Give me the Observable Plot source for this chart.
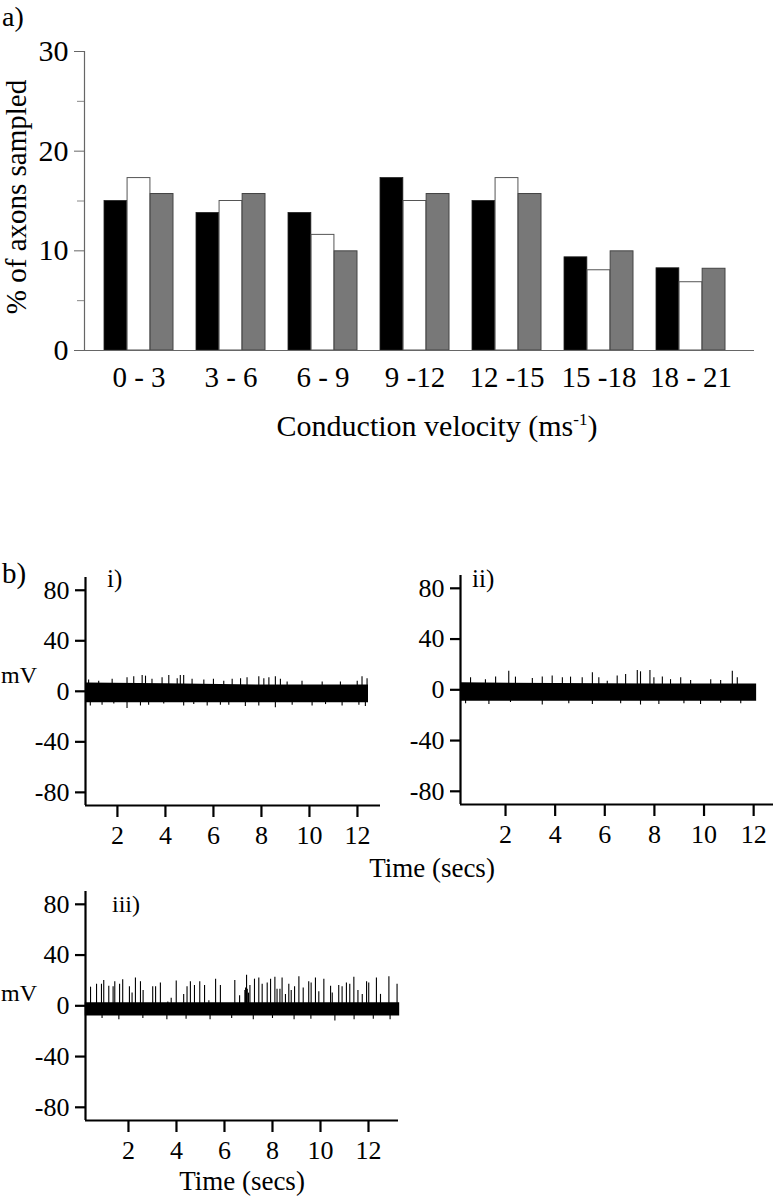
<!DOCTYPE html>
<html>
<head>
<meta charset="utf-8">
<script src="https://cdn.jsdelivr.net/npm/d3@7"></script>
<script src="https://cdn.jsdelivr.net/npm/@observablehq/plot@0.6"></script>
<style>
  body { margin: 0; background: #fff; }
  #root { position: relative; width: 779px; height: 1199px; overflow: hidden; background: #fff;
          font-family: "Liberation Serif", "Times New Roman", serif; }
  #root svg, #root svg text { font-family: "Liberation Serif", "Times New Roman", serif !important; }
</style>
</head>
<body>
<div id="root"></div>
<script>
// ---------- Panel a data ----------
const groups = ["0 - 3", "3 - 6", "6 - 9", "9 -12", "12 -15", "15 -18", "18 - 21"];
const blackValues = [15.0, 13.8, 13.8, 17.3, 15.0, 9.35, 8.25];
const whiteValues = [17.3, 15.0, 11.6, 15.0, 17.3, 8.05, 6.85];
const grayValues  = [15.7, 15.7, 9.95, 15.7, 15.7, 9.95, 8.2];
const yTicksA = [0, 10, 20, 30];
const yMinorTicksA = [5, 15, 25];

// ---------- Panel b data (time s, mV) ----------
const timeTicks = [2, 4, 6, 8, 10, 12];
const mvTicks = [-80, -40, 0, 40, 80];

// dense noise band: [time, upper, lower]
const bandI   = [[0.71, 6.5, -9], [4, 6, -9], [8, 5, -9], [12.46, 5, -9]];
const bandII  = [[0.19, 5.5, -9], [4, 5, -9], [8, 4.5, -9], [12.12, 4.5, -9]];
const bandIII = [[0.2, 2.5, -8], [4, 2.5, -8], [8, 2.5, -8], [13.3, 2.5, -8]];

// spikes: [time, peak mV]
const upI = [[0.8,9],[1.22,8],[1.78,9.5],[2.4,10.8],[2.68,11.6],[3.03,12.6],[3.17,12],[3.44,9.5],[3.86,10.8],
  [4.14,12.6],[4.49,10],[4.62,12.6],[4.76,12.6],[5.11,9.5],[5.6,9],[6.0,9.5],[6.43,8],[6.78,9.5],[7.13,10],
  [7.4,10.8],[7.89,11.6],[8.1,10],[8.31,10.8],[8.58,11.6],[8.79,9.5],[9.07,7.4],[9.69,8],[10.53,7.4],
  [11.29,7.4],[11.99,8],[12.19,11.6],[12.4,10]];
const downI = [[0.87,-11.6],[1.36,-11],[1.85,-10],[2.4,-13.7],[2.96,-11.6],[3.3,-11],[3.93,-10],[4.76,-11.6],
  [5.18,-10.5],[5.74,-11.6],[6.29,-11],[6.64,-11],[7.33,-12],[7.89,-11.6],[8.58,-13],[9.28,-11],[10.11,-11.6],
  [10.67,-10.5],[11.36,-11.6],[12.06,-11],[12.33,-12]];
const upII = [[0.59,9.5],[1.19,8],[1.6,10],[2.13,14.7],[2.4,10],[3.08,9],[3.48,10],[3.88,10.8],[4.29,9.5],
  [4.62,10],[5.09,9.5],[5.5,13.4],[5.76,9.5],[6.1,6.8],[6.5,10.8],[6.84,12],[7.31,15.3],[7.44,14.2],[7.82,15.3],
  [7.98,9.5],[8.32,10],[8.65,8],[9.06,9.5],[9.46,7.4],[10.27,8],[10.67,7.4],[11.14,14.7],[11.34,9.5]];
const downII = [[0.39,-11],[1.33,-11.6],[2.2,-10],[3.48,-12],[4.55,-11],[5.5,-11.6],[6.64,-11],[7.44,-12],
  [8.18,-11.6],[9.19,-11],[9.86,-11.6],[10.67,-10.5],[11.48,-11]];
const upIII = [[0.42,14.7],[0.67,17],[0.875,17],[0.97,20],[1.18,15.5],[1.36,15],[1.43,19],[1.63,17],[1.76,20.5],
  [2.04,15],[2.15,10],[2.29,22],[2.5,19],[2.61,12],[3.01,15],[3.13,15],[3.33,18],[3.64,3],[3.78,6],[3.99,19.5],
  [4.3,9],[4.44,15],[4.58,19],[4.75,16],[4.97,19],[5.17,16],[5.35,4],[5.63,21],[5.83,16],[6.43,20],[6.63,8],
  [6.85,12],[6.88,14],[6.92,24],[6.95,13],[7.0,10],[7.06,16],[7.25,21],[7.43,22],[7.57,17],[7.78,18],[7.92,21],
  [8.1,22.5],[8.19,13],[8.31,13],[8.4,22],[8.54,9],[8.68,17],[8.78,12],[8.92,15],[9.1,23],[9.28,14],[9.51,19],
  [9.61,18],[9.79,22],[9.93,11],[10.14,21],[10.42,15.5],[10.49,10],[10.76,16],[10.9,15],[11.08,18],[11.22,17],
  [11.39,22.5],[11.56,12],[11.74,9],[11.92,19],[12.01,18],[12.33,22],[12.5,9],[12.85,23],[13.19,17]];
const downIII = [[0.9,-10],[1.6,-11],[2.6,-10],[3.6,-11],[4.4,-10.5],[5.4,-11],[6.3,-10],[7.2,-11],[8.0,-10],
  [8.9,-11],[9.6,-10.5],[10.6,-12],[11.4,-11],[12.2,-10.5],[12.9,-11]];

// ---------- layout ----------
const root = document.getElementById("root");
const FONT = '"Liberation Serif", "Times New Roman", serif';
function place(el, left, top) {
  el.style.position = "absolute";
  el.style.left = left + "px";
  el.style.top = top + "px";
  root.appendChild(el);
}

// ---------- Panel a ----------
const A = {width: 779, height: 460, mL: 84, mR: 25, mT: 51, mB: 110, padIn: 0.254, padOut: 0.237, align: 0.41};
const step = (A.width - A.mL - A.mR) / (groups.length - A.padIn + 2 * A.padOut);
const barW = step * (1 - A.padIn) / 3;

const chartA = Plot.plot({
  width: A.width, height: A.height,
  marginLeft: A.mL, marginRight: A.mR, marginTop: A.mT, marginBottom: A.mB,
  style: {fontFamily: FONT, fontSize: "29px", color: "#000", background: "transparent"},
  x: {type: "band", domain: groups, paddingInner: A.padIn, paddingOuter: A.padOut, align: A.align, label: null},
  y: {domain: [0, 30], label: null},
  marks: [
    Plot.barY(blackValues, {x: (d, i) => groups[i], y: d => d, fill: "#000", stroke: "#222", strokeWidth: 0.8, insetRight: 2 * barW}),
    Plot.barY(whiteValues, {x: (d, i) => groups[i], y: d => d, fill: "#fff", stroke: "#555", strokeWidth: 1, insetLeft: barW, insetRight: barW}),
    Plot.barY(grayValues, {x: (d, i) => groups[i], y: d => d, fill: "#787878", stroke: "#444", strokeWidth: 1, insetLeft: 2 * barW}),
    Plot.ruleY([0], {stroke: "#666", strokeWidth: 1.2}),
    Plot.frame({anchor: "left", stroke: "#666", strokeWidth: 1.2}),
    Plot.axisY({ticks: yTicksA, tickSize: 10, tickPadding: 6, stroke: "#666", fontSize: 30, fontFamily: FONT, label: null}),
    Plot.axisY({ticks: yMinorTicksA, tickSize: 7, tickFormat: () => "", stroke: "#888", label: null}),
    Plot.axisX({tickSize: 0, tickPadding: 16, fontSize: 29, fontFamily: FONT, label: null})
  ]
});
place(chartA, 0, 0);

// ---------- Panel b traces ----------
function trace(o) {
  const svg = Plot.plot({
    width: o.width, height: o.height,
    marginLeft: o.mL, marginRight: o.mR, marginTop: o.mT, marginBottom: o.mB,
    style: {fontFamily: FONT, fontSize: "25px", color: "#000", background: "transparent"},
    x: {domain: o.xDomain, label: null},
    y: {domain: [-90.4, 90.1], label: null},
    marks: [
      Plot.areaY(o.band, {x: d => d[0], y1: d => d[2], y2: d => d[1], fill: "#000"}),
      Plot.ruleX(o.up, {x: d => d[0], y1: 0, y2: d => d[1], stroke: "#000", strokeWidth: 1.1}),
      Plot.ruleX(o.down, {x: d => d[0], y1: -4, y2: d => d[1], stroke: "#000", strokeWidth: 1.1}),
      Plot.ruleX([o.xDomain[0]], {stroke: "#000", strokeWidth: 2.2}),
      Plot.ruleY([-90.4], {stroke: "#000", strokeWidth: 2.2}),
      Plot.axisY({ticks: mvTicks, tickSize: 10, tickPadding: 6, strokeWidth: 2.2, tickFormat: d => String(d), fontSize: 26, fontFamily: FONT, label: null}),
      Plot.axisX({ticks: timeTicks, tickSize: 12, tickPadding: 8, strokeWidth: 2.2, fontSize: 26, fontFamily: FONT, label: null})
    ]
  });
  place(svg, o.left, o.top);
}

trace({left: 0, top: 556, width: 390, height: 300, mL: 85, mR: 10, mT: 21, mB: 51,
       xDomain: [0.67, 12.96], band: bandI, up: upI, down: downI});
trace({left: 390, top: 556, width: 389, height: 300, mL: 70, mR: 6, mT: 19, mB: 52,
       xDomain: [0.185, 12.8], band: bandII, up: upII, down: downII});
trace({left: 0, top: 870, width: 420, height: 300, mL: 85, mR: 22, mT: 21, mB: 50,
       xDomain: [0.21, 13.25], band: bandIII, up: upIII, down: downIII});

// ---------- text overlay ----------
const ov = d3.create("svg").attr("width", 779).attr("height", 1199)
  .style("position", "absolute").style("left", "0px").style("top", "0px")
  .style("pointer-events", "none")
  .attr("font-family", FONT).attr("fill", "#000");
function label(txt, x, y, size, anchor = "start", rotate = 0) {
  const t = ov.append("text").attr("x", x).attr("y", y).attr("font-size", size)
    .attr("text-anchor", anchor).text(txt);
  if (rotate) t.attr("transform", `rotate(${rotate},${x},${y})`);
  return t;
}
label("a)", 2, 26, 28);
label("% of axons sampled", 26, 197, 29, "middle", -90);
const xl = ov.append("text").attr("x", 437).attr("y", 436).attr("font-size", 30).attr("text-anchor", "middle");
xl.append("tspan").text("Conduction velocity (ms");
xl.append("tspan").attr("font-size", 17).attr("dy", -11).text("-1");
xl.append("tspan").attr("dy", 11).text(")");
label("b)", 2, 583, 29);
label("i)", 107, 587, 25);
label("ii)", 472, 587, 25);
label("iii)", 112, 912, 24);
label("mV", 37, 683, 24, "end");
label("mV", 37, 1001, 24, "end");
label("Time (secs)", 432, 877, 27, "middle");
label("Time (secs)", 242, 1190, 27, "middle");
root.appendChild(ov.node());
</script>
</body>
</html>
